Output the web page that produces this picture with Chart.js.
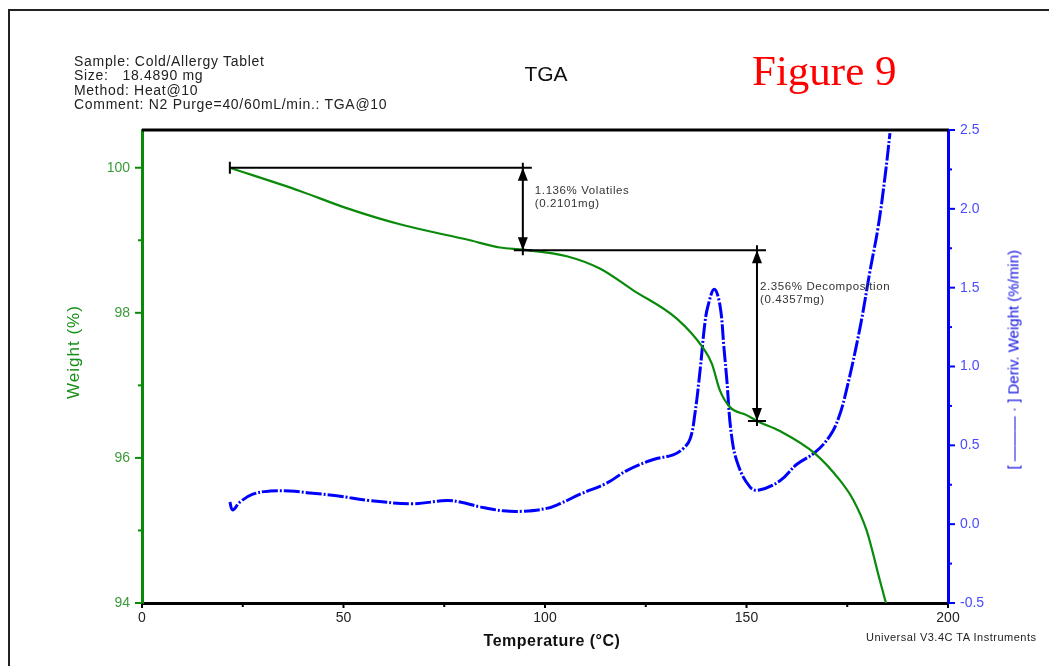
<!DOCTYPE html>
<html>
<head>
<meta charset="utf-8">
<title>TGA</title>
<script src="https://cdn.jsdelivr.net/npm/chart.js@4.4.1/dist/chart.umd.min.js"></script>
<style>
  html, body { margin: 0; padding: 0; background: #fff; overflow: hidden; }
  #wrap { position: relative; width: 1049px; height: 666px; overflow: hidden; }
  #frame { position: absolute; left: 8px; top: 9px; width: 1100px; height: 700px; border: 2px solid #222; box-sizing: border-box; }
  #tga { position: absolute; left: 0; top: 0; }
  .txt { position: absolute; font-family: 'Liberation Sans', Arial, sans-serif; white-space: nowrap; }
  #info { left: 74px; top: 54px; font-size: 14px; line-height: 14.3px; letter-spacing: 0.7px; color: #222; }
  #title { left: 446px; width: 200px; top: 63px; font-size: 21px; line-height: 21px; text-align: center; color: #111; }
  #fig { left: 752px; top: 49px; font-family: 'Liberation Serif', 'Times New Roman', serif; font-size: 43px; line-height: 43px; color: #f00; }
  #xTitle { left: 452px; width: 200px; top: 633px; font-size: 16px; line-height: 15px; font-weight: bold; letter-spacing: 0.5px; text-align: center; color: #111; }
  #credit { left: 866px; top: 632px; font-size: 11px; line-height: 11px; letter-spacing: 0.5px; color: #222; }
  #yLeftTitle { left: -26px; width: 200px; top: 344px; font-size: 17px; line-height: 16px; letter-spacing: 1px; text-align: center; color: #189018; transform: rotate(-90deg); }
  #yRightTitle { left: 913px; width: 200px; top: 362px; font-size: 15px; line-height: 15px; text-align: center; color: #1010e0; transform: rotate(-90deg); }
</style>
</head>
<body>
<div id="wrap">
  <div id="frame"></div>
  <canvas id="tga" width="1049" height="666"></canvas>
  <div class="txt" id="info">Sample: Cold/Allergy Tablet<br>Size:&nbsp;&nbsp;&nbsp;18.4890 mg<br>Method: Heat@10<br>Comment: N2 Purge=40/60mL/min.: TGA@10</div>
  <div class="txt" id="title">TGA</div>
  <div class="txt" id="fig">Figure 9</div>
  <div class="txt" id="xTitle">Temperature (°C)</div>
  <div class="txt" id="credit">Universal V3.4C TA Instruments</div>
  <div class="txt" id="yLeftTitle">Weight (%)</div>
  <div class="txt" id="yRightTitle">[ ——— · ] Deriv. Weight (%/min)</div>
</div>
<script>
// Weight loss curve (green, left axis)
const weightTemp = [21.8, 39.2, 50.4, 64.0, 81.4, 88.8, 94.6, 105.4, 113.6, 121.9, 132.7, 139.3, 141.4,
  143.4, 145.9, 150.0, 152.6, 158.3, 167.0, 173.2, 176.5, 179.8, 183.1, 184.6];
const weightPct = [100.0, 99.68, 99.45, 99.22, 99.0, 98.90, 98.87, 98.78, 98.61, 98.31, 97.92, 97.51, 97.30,
  96.93, 96.70, 96.59, 96.51, 96.37, 96.06, 95.69, 95.42, 95.0, 94.31, 94.0];

// Derivative weight curve (blue, right axis)
const derivTemp = [21.8, 22.5, 24.3, 27.5, 31.8, 36.7, 40.9, 48.3, 56.6, 67.2, 75.6, 78.9, 83.9, 89.6, 94.5,
  100.4, 103.7, 108.7, 115.3, 120.3, 126.9, 131.8, 134.3, 136.0, 137.2, 138.5, 139.7, 140.5, 142.0, 143.4,
  144.4, 145.1, 146.3, 148.0, 150.9, 152.9, 158.3, 162.5, 167.0, 170.7, 172.8, 174.8, 178.2, 180.6, 182.7,
  184.4, 185.6];
const derivVal = [0.14, 0.09, 0.14, 0.19, 0.21, 0.21, 0.20, 0.18, 0.15, 0.13, 0.15, 0.14, 0.11, 0.085, 0.082,
  0.10, 0.13, 0.19, 0.26, 0.34, 0.41, 0.44, 0.48, 0.54, 0.70, 0.98, 1.28, 1.39, 1.49, 1.39,
  1.12, 0.92, 0.56, 0.37, 0.235, 0.215, 0.275, 0.38, 0.455, 0.56, 0.67, 0.85, 1.25, 1.60, 1.89,
  2.21, 2.48];

// Axis ticks
const tempTicks = [0, 25, 50, 75, 100, 125, 150, 175, 200];
const weightTicks = [94, 95, 96, 97, 98, 99, 100];
const derivTicks = [-0.5, -0.25, 0, 0.25, 0.5, 0.75, 1.0, 1.25, 1.5, 1.75, 2.0, 2.25, 2.5];

// Step analysis: start temp, arrow temp, upper weight, lower weight
const stepFromT = [21.8, 94.5];
const stepAtT = [94.5, 152.6];
const stepTopW = [100.0, 98.864];
const stepBottomW = [98.864, 96.508];
const stepLabels = [['1.136% Volatiles', '(0.2101mg)'], ['2.356% Decomposition', '(0.4357mg)']];
const labelOffsets = [[12, 26], [3, 40]];

const GREEN = '#0a8a0a';
const BLUE = '#0000ff';

function arrowHead(ctx, x, tipY, dir) {
  // dir = -1 points up, 1 points down
  ctx.beginPath();
  ctx.moveTo(x, tipY);
  ctx.lineTo(x - 5, tipY - dir * 13);
  ctx.lineTo(x + 5, tipY - dir * 13);
  ctx.closePath();
  ctx.fill();
}

const marksPlugin = {
  id: 'marks',
  afterDraw(chart) {
    const { ctx, chartArea: a, scales } = chart;
    const sx = scales.x, sw = scales.yWeight, sd = scales.yDeriv;
    ctx.save();

    // top frame line of the plot
    ctx.strokeStyle = '#000';
    ctx.lineWidth = 3;
    ctx.beginPath();
    ctx.moveTo(a.left, a.top);
    ctx.lineTo(a.right + 1, a.top);
    ctx.stroke();

    // tick marks
    ctx.lineWidth = 2;
    ctx.strokeStyle = '#000';
    tempTicks.forEach(t => {
      const px = sx.getPixelForValue(t);
      const len = t % 50 === 0 ? 5 : 4;
      ctx.beginPath(); ctx.moveTo(px, a.bottom); ctx.lineTo(px, a.bottom + len); ctx.stroke();
    });
    ctx.strokeStyle = GREEN;
    weightTicks.forEach(w => {
      const py = sw.getPixelForValue(w);
      const len = w % 2 === 0 ? 7 : 4;
      ctx.beginPath(); ctx.moveTo(a.left, py); ctx.lineTo(a.left - len, py); ctx.stroke();
    });
    ctx.strokeStyle = BLUE;
    derivTicks.forEach(d => {
      const py = sd.getPixelForValue(d);
      const len = Math.abs(d * 2 - Math.round(d * 2)) < 1e-6 ? 7 : 4;
      ctx.beginPath(); ctx.moveTo(a.right, py); ctx.lineTo(a.right + len, py); ctx.stroke();
    });

    // step analysis arrows
    ctx.strokeStyle = '#000';
    ctx.fillStyle = '#000';
    ctx.lineWidth = 2;
    stepAtT.forEach((t, i) => {
      const x0 = sx.getPixelForValue(stepFromT[i]);
      const xa = sx.getPixelForValue(t);
      const yTop = sw.getPixelForValue(stepTopW[i]);
      const yBot = sw.getPixelForValue(stepBottomW[i]);
      ctx.beginPath();
      ctx.moveTo(x0, yTop); ctx.lineTo(xa + 9, yTop);
      ctx.moveTo(xa - 9, yBot); ctx.lineTo(xa + 9, yBot);
      ctx.moveTo(xa, yTop - 5); ctx.lineTo(xa, yBot + 5);
      if (i === 0) { ctx.moveTo(x0, yTop - 6); ctx.lineTo(x0, yTop + 6); }
      ctx.stroke();
      arrowHead(ctx, xa, yTop, -1);
      arrowHead(ctx, xa, yBot, 1);

      ctx.font = '11.5px "Liberation Sans", Arial, sans-serif';
      ctx.letterSpacing = '0.6px';
      ctx.fillStyle = '#333';
      stepLabels[i].forEach((s, k) => {
        ctx.fillText(s, xa + labelOffsets[i][0], yTop + labelOffsets[i][1] + k * 13.3);
      });
      ctx.fillStyle = '#000';
      ctx.letterSpacing = '0px';
    });
    ctx.restore();
  }
};

const tickFont = { family: "'Liberation Sans', Arial, sans-serif", size: 14 };

new Chart(document.getElementById('tga').getContext('2d'), {
  type: 'line',
  data: {
    datasets: [
      {
        label: 'Weight (%)',
        data: weightTemp.map((t, i) => ({ x: t, y: weightPct[i] })),
        yAxisID: 'yWeight',
        borderColor: GREEN,
        borderWidth: 2.2,
        pointRadius: 0,
        cubicInterpolationMode: 'monotone',
        fill: false
      },
      {
        label: 'Deriv. Weight (%/min)',
        data: derivTemp.map((t, i) => ({ x: t, y: derivVal[i] })),
        yAxisID: 'yDeriv',
        borderColor: BLUE,
        borderWidth: 3,
        borderDash: [16, 2, 2, 2],
        pointRadius: 0,
        tension: 0.4,
        fill: false
      }
    ]
  },
  options: {
    responsive: false,
    animation: false,
    layout: { padding: { top: 130, left: 0, right: 0, bottom: 0 } },
    plugins: { legend: { display: false }, tooltip: { enabled: false } },
    scales: {
      x: {
        type: 'linear',
        min: 0,
        max: 200,
        afterFit: s => { s.height = 63; },
        afterBuildTicks: s => { s.ticks = tempTicks.map(v => ({ value: v })); },
        grid: { display: false, drawTicks: false },
        border: { display: true, color: '#000', width: 3 },
        ticks: {
          autoSkip: false,
          maxRotation: 0,
          padding: 7,
          color: '#222',
          font: tickFont,
          callback: v => (v % 50 === 0 ? String(v) : '')
        }
      },
      yWeight: {
        type: 'linear',
        position: 'left',
        min: 94,
        max: 100.52,
        afterFit: s => { s.width = 142; },
        afterBuildTicks: s => { s.ticks = weightTicks.map(v => ({ value: v })); },
        grid: { display: false, drawTicks: false },
        border: { display: true, color: GREEN, width: 3 },
        ticks: {
          padding: 12,
          color: '#3a9a3a',
          font: tickFont,
          callback: v => (v % 2 === 0 ? String(v) : '')
        }
      },
      yDeriv: {
        type: 'linear',
        position: 'right',
        min: -0.5,
        max: 2.5,
        afterFit: s => { s.width = 101; },
        afterBuildTicks: s => { s.ticks = derivTicks.map(v => ({ value: v })); },
        grid: { display: false, drawTicks: false },
        border: { display: true, color: BLUE, width: 3 },
        ticks: {
          padding: 12,
          color: '#4a4aff',
          font: tickFont,
          callback: v => (Math.abs(v * 2 - Math.round(v * 2)) < 1e-6 ? v.toFixed(1) : '')
        }
      }
    }
  },
  plugins: [marksPlugin]
});
</script>
</body>
</html>
